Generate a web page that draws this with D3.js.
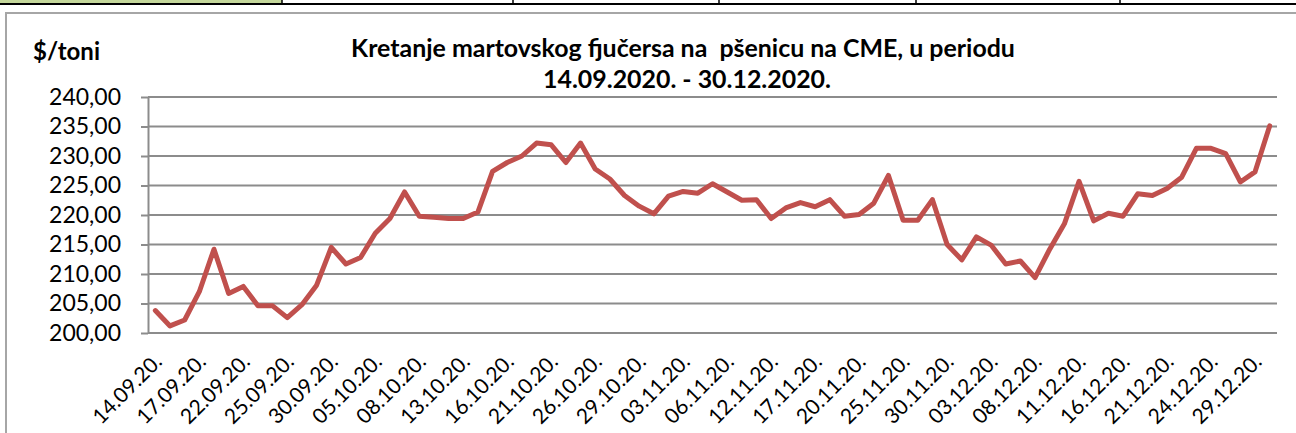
<!DOCTYPE html>
<html>
<head>
<meta charset="utf-8">
<script src="https://cdnjs.cloudflare.com/ajax/libs/d3/7.8.5/d3.min.js"></script>
<style>
  body { margin: 0; background: #fff; }
  text { font-family: Lato, "Open Sans", sans-serif; fill: #000; }
</style>
</head>
<body>
<div id="chart"></div>
<script>
// March wheat futures on CME, 14.09.2020 - 30.12.2020 ($/t)
var titleLines = ["Kretanje martovskog fjučersa na  pšenicu na CME, u periodu", "14.09.2020. - 30.12.2020."];
var unitLabel = "$/toni";
var yTicks = [200, 205, 210, 215, 220, 225, 230, 235, 240];
// one label on every third trading day
var tickLabels = ["14.09.20.", "17.09.20.", "22.09.20.", "25.09.20.", "30.09.20.", "05.10.20.", "08.10.20.",
  "13.10.20.", "16.10.20.", "21.10.20.", "26.10.20.", "29.10.20.", "03.11.20.", "06.11.20.", "12.11.20.",
  "17.11.20.", "20.11.20.", "25.11.20.", "30.11.20.", "03.12.20.", "08.12.20.", "11.12.20.", "16.12.20.",
  "21.12.20.", "24.12.20.", "29.12.20."];
var prices = [203.8, 201.2, 202.2, 207.0, 214.2, 206.7, 207.9, 204.6, 204.6, 202.6,
  204.8, 208.1, 214.5, 211.7, 212.8, 216.9, 219.4, 223.9, 219.8, 219.6,
  219.4, 219.4, 220.5, 227.4, 228.9, 230.0, 232.2, 231.9, 228.9, 232.2,
  227.8, 226.1, 223.3, 221.5, 220.2, 223.2, 224.0, 223.7, 225.3, 223.9,
  222.5, 222.6, 219.4, 221.2, 222.1, 221.4, 222.6, 219.8, 220.1, 222.0,
  226.7, 219.1, 219.1, 222.6, 215.0, 212.4, 216.3, 214.9, 211.7, 212.2,
  209.4, 214.2, 218.5, 225.7, 219.0, 220.3, 219.8, 223.6, 223.3, 224.5,
  226.4, 231.3, 231.3, 230.4, 225.6, 227.3, 235.1];

var W = 1296, H = 433;
var svg = d3.select("#chart").append("svg").attr("width", W).attr("height", H);

// strip of the sheet above the chart
svg.append("rect").attr("x", 0).attr("y", 0).attr("width", 282).attr("height", 3).attr("fill", "#c4d79b");
svg.append("line").attr("x1", 0).attr("x2", W).attr("y1", 4).attr("y2", 4).attr("stroke", "#000").attr("stroke-width", 2);
[282, 513, 719, 916, 1120].forEach(function(x) {
  svg.append("line").attr("x1", x).attr("x2", x).attr("y1", 0).attr("y2", 4).attr("stroke", "#000").attr("stroke-width", 1.5);
});

// chart frame
svg.append("rect").attr("x", 6).attr("y", 13).attr("width", W + 20).attr("height", H + 20)
  .attr("fill", "none").attr("stroke", "#a6a6a6").attr("stroke-width", 2);

var plot = {left: 148, right: 1277, top: 97, bottom: 333};

var x = d3.scaleBand().domain(d3.range(prices.length)).range([plot.left, plot.right]).padding(0);
var y = d3.scaleLinear().domain([200, 240]).range([plot.bottom, plot.top]);
var cx = function(i) { return x(i) + x.bandwidth() / 2; };

// gridlines
svg.append("g").selectAll("line").data(yTicks).enter().append("line")
  .attr("x1", plot.left).attr("x2", plot.right)
  .attr("y1", function(d) { return y(d); }).attr("y2", function(d) { return y(d); })
  .attr("stroke", "#8c8c8c").attr("stroke-width", 2);

// y axis
var yAxis = d3.axisLeft(y).tickValues(yTicks).tickSize(7).tickSizeOuter(0).tickPadding(20)
  .tickFormat(function(d) { return d3.format(".2f")(d).replace(".", ","); });
var gy = svg.append("g").attr("transform", "translate(" + plot.left + ",0)").call(yAxis);
gy.select(".domain").attr("stroke", "#8c8c8c").attr("stroke-width", 2);
gy.selectAll(".tick line").attr("stroke", "#8c8c8c").attr("stroke-width", 2);
gy.selectAll(".tick text").attr("font-size", 23).attr("font-family", "Lato").attr("fill", "#000");

// x labels, rotated
svg.append("g").selectAll("text").data(tickLabels).enter().append("text")
  .attr("transform", function(d, k) { return "translate(" + (cx(k * 3) + 8) + ",363) rotate(-45)"; })
  .attr("text-anchor", "end")
  .attr("font-size", 21)
  .text(function(d) { return d; });

// price line
var line = d3.line().x(function(d, i) { return cx(i); }).y(function(d) { return y(d); });
svg.append("path").datum(prices).attr("d", line)
  .attr("fill", "none").attr("stroke", "#c0504d").attr("stroke-width", 5)
  .attr("stroke-linejoin", "round").attr("stroke-linecap", "round");

// titles
var fit = function(sel, width) {
  var len = sel.node().getComputedTextLength();
  var fs = parseFloat(sel.attr("font-size"));
  sel.attr("font-size", fs * width / len);
};
var t1 = svg.append("text").attr("x", 683).attr("y", 57).attr("text-anchor", "middle")
  .attr("font-weight", "bold").attr("font-size", 22).style("white-space", "pre").text(titleLines[0]);
fit(t1, 664);
var t2 = svg.append("text").attr("x", 687).attr("y", 88).attr("text-anchor", "middle")
  .attr("font-weight", "bold").attr("font-size", 22).style("white-space", "pre").text(titleLines[1]);
fit(t2, 288);

svg.append("text").attr("x", 33).attr("y", 60).attr("font-weight", "bold").attr("font-size", 24).text(unitLabel);
</script>
</body>
</html>
